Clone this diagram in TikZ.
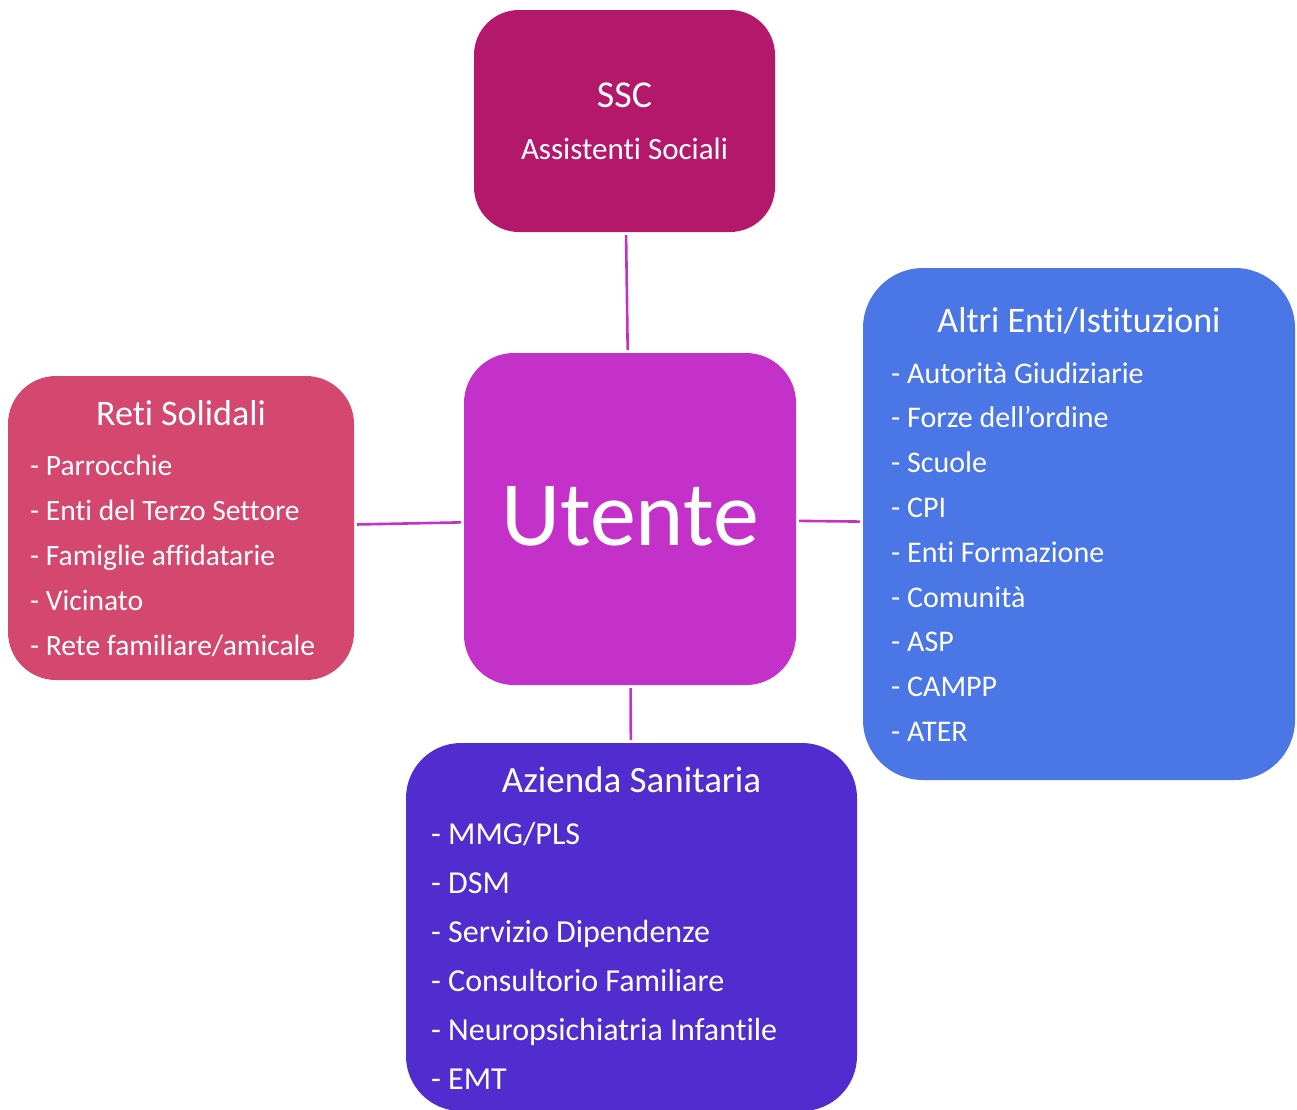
\documentclass[tikz,border=0pt]{standalone}
\usepackage{fontspec}
\setmainfont{Carlito}[Ligatures={NoCommon,NoContextual,NoRare}]
\usepackage{tikz}
\usetikzlibrary{positioning}
\definecolor{ssccol}{HTML}{B3186B}
\definecolor{utentecol}{HTML}{C431C8}
\definecolor{reticol}{HTML}{D4476F}
\definecolor{altricol}{HTML}{4A76E6}
\definecolor{aziendacol}{HTML}{512DCF}
\tikzset{
  box/.style={draw=none,rounded corners=#1,inner sep=0pt},
  label/.style={text=white,inner sep=0pt,anchor=base},
  item/.style={text=white,inner sep=0pt,anchor=base west,
    font=\fontsize{29.5}{35}\selectfont},
  head/.style={label,font=\fontsize{36}{42}\selectfont},
  link/.style={draw=utentecol,line width=2.6pt,shorten <=3pt,shorten >=3pt}
}
\begin{document}
\begin{tikzpicture}[x=1pt,y=-1pt]
  \useasboundingbox (0,0) rectangle (1297,1109);
  %
  % Boxes
  \node[box=45pt,fill=ssccol,minimum width=301,minimum height=222] (ssc) at (624.5,121) {};
  \node[box=50pt,fill=utentecol,minimum width=332,minimum height=332] (utente) at (630,519) {};
  \node[box=48pt,fill=reticol,minimum width=346,minimum height=304] (reti) at (181,528) {};
  \node[box=60pt,fill=altricol,minimum width=432,minimum height=512] (altri) at (1079,524) {};
  \node[box=55pt,fill=aziendacol,minimum width=451,minimum height=368] (azienda) at (631.5,927) {};
  %
  % Links
  \draw[link] (ssc) -- (utente);
  \draw[link] (reti) -- (utente);
  \draw[link] (utente) -- (altri);
  \draw[link] (utente) -- (azienda);
  %
  % SSC
  \node[head,font=\fontsize{38}{44}\selectfont] (ssctitle) at (624.5,107) {SSC};
  \node[label,font=\fontsize{31}{36}\selectfont] (sscsub) at (624.5,159) {Assistenti Sociali};
  %
  % Utente
  \node[label,font=\fontsize{92}{110}\selectfont] (utentetxt) at (630,545) {Utente};
  %
  % Reti Solidali
  \node[head] (retititle) at (181,425) {Reti Solidali};
  \foreach \t [count=\i] in {Parrocchie,Enti del Terzo Settore,Famiglie affidatarie,
    Vicinato,Rete familiare/amicale}
    \node[item] (reti\i) at (30,{475+45*(\i-1)}) {- \t};
  %
  % Altri Enti/Istituzioni
  \node[head] (altrititle) at (1079,332) {Altri Enti/Istituzioni};
  \foreach \t [count=\i] in {Autorità Giudiziarie,Forze dell’ordine,Scuole,CPI,
    Enti Formazione,Comunità,ASP,CAMPP,ATER}
    \node[item,font=\fontsize{30}{36}\selectfont] (altri\i) at (891,{383+44.8*(\i-1)}) {- \t};
  %
  % Azienda Sanitaria
  \node[head,font=\fontsize{37}{44}\selectfont] (aziendatitle) at (631.5,792) {Azienda Sanitaria};
  \foreach \t [count=\i] in {MMG/PLS,DSM,Servizio Dipendenze,Consultorio Familiare,
    Neuropsichiatria Infantile,EMT}
    \node[item,font=\fontsize{32}{38}\selectfont] (azienda\i) at (431,{844+49*(\i-1)}) {- \t};
  %
\end{tikzpicture}
\end{document}
